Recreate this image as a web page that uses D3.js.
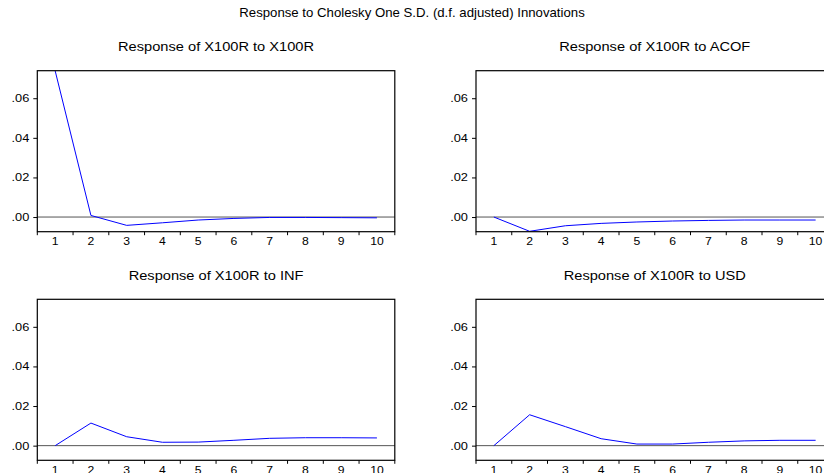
<!DOCTYPE html>
<html>
<head>
<meta charset="utf-8">
<script src="https://cdn.jsdelivr.net/npm/d3@7"></script>
<style>
  body { margin: 0; background: #fff; }
  svg { display: block; }
  text { font-family: "Liberation Sans", Arial, sans-serif; fill: #000; }
</style>
</head>
<body>
<div id="chart"></div>
<script>
const width = 824,
  height = 473;

const mainTitle = "Response to Cholesky One S.D. (d.f. adjusted) Innovations";
const periods = ["1", "2", "3", "4", "5", "6", "7", "8", "9", "10"];
const yTicks = [0, 0.02, 0.04, 0.06];

// responses of X100R
const toX100R = [0.0738, 0.0008, -0.0042, -0.0029, -0.0015, -0.0007, -0.0002, -0.0002, -0.0003, -0.0004];
const toACOF = [0, -0.0072, -0.0044, -0.0032, -0.0025, -0.0020, -0.0017, -0.0015, -0.0015, -0.0015];
const toINF = [0, 0.0114, 0.0045, 0.0017, 0.0018, 0.0027, 0.0037, 0.0040, 0.0040, 0.0039];
const toUSD = [0, 0.0156, 0.0096, 0.0035, 0.0008, 0.0008, 0.0017, 0.0024, 0.0027, 0.0027];

const panels = [
  { title: "Response of X100R to X100R", values: toX100R, left: 37.3, top: 70.7 },
  { title: "Response of X100R to ACOF", values: toACOF, left: 476, top: 70.7 },
  { title: "Response of X100R to INF", values: toINF, left: 37.3, top: 299.3 },
  { title: "Response of X100R to USD", values: toUSD, left: 476, top: 299.3 }
];

const pw = 357.5,
  ph = 161,
  sx = 1.22; // text is drawn a bit wide in the original

const svg = d3.select("#chart")
  .append("svg")
  .attr("width", width)
  .attr("height", height);

svg.append("text")
  .attr("transform", `translate(${width / 2},17.3) scale(1.1,1)`)
  .attr("text-anchor", "middle")
  .style("font-size", "12px")
  .text(mainTitle);

const x = d3.scaleBand().domain(periods).range([0, pw]);
const y = d3.scaleLinear().domain([-0.0074, 0.0739]).range([ph, 0]);

const line = d3.line()
  .x((d, i) => x(periods[i]) + x.bandwidth() / 2)
  .y(d => y(d));

const defs = svg.append("defs");

panels.forEach((p, idx) => {
  const g = svg.append("g").attr("transform", `translate(${p.left},${p.top})`);

  defs.append("clipPath").attr("id", "clip" + idx)
    .append("rect").attr("width", pw).attr("height", ph);

  g.append("text")
    .attr("transform", `translate(${pw / 2},-19.6) scale(${sx},1)`)
    .attr("text-anchor", "middle")
    .style("font-size", "12px")
    .text(p.title);

  g.append("line")
    .attr("x1", 0).attr("x2", pw)
    .attr("y1", y(0)).attr("y2", y(0))
    .style("stroke", "#555")
    .style("stroke-width", 1);

  g.append("path")
    .datum(p.values)
    .attr("d", line)
    .attr("clip-path", `url(#clip${idx})`)
    .style("fill", "none")
    .style("stroke", "#0000ff")
    .style("stroke-width", 1);

  g.append("rect")
    .attr("width", pw)
    .attr("height", ph)
    .style("fill", "none")
    .style("stroke", "#000")
    .style("stroke-width", 1.2);

  // y axis, ticks outward
  const ya = g.append("g")
    .call(d3.axisLeft(y)
      .tickValues(yTicks)
      .tickSize(4)
      .tickFormat(d => d3.format(".2f")(d).replace(/^0/, "")));
  ya.select(".domain").remove();
  ya.selectAll("line").style("stroke", "#000");
  ya.selectAll("text")
    .attr("x", -8 / sx)
    .attr("transform", `scale(${sx},1)`)
    .style("font-size", "10.5px")
    .style("font-family", null);

  // x axis labels at band centres
  const xa = g.append("g")
    .attr("transform", `translate(0,${ph})`)
    .call(d3.axisBottom(x).tickSize(0).tickPadding(6.5));
  xa.select(".domain").remove();
  xa.selectAll("text")
    .attr("transform", `scale(${sx},1)`)
    .style("font-size", "10px")
    .style("font-family", null);

  // boundary ticks between periods
  const edges = periods.map(d => x(d)).concat([x.range()[1]]);
  g.selectAll(".edge")
    .data(edges)
    .enter()
    .append("line")
    .attr("class", "edge")
    .attr("x1", d => d).attr("x2", d => d)
    .attr("y1", ph).attr("y2", ph + 3.5)
    .style("stroke", "#000");
});
</script>
</body>
</html>
